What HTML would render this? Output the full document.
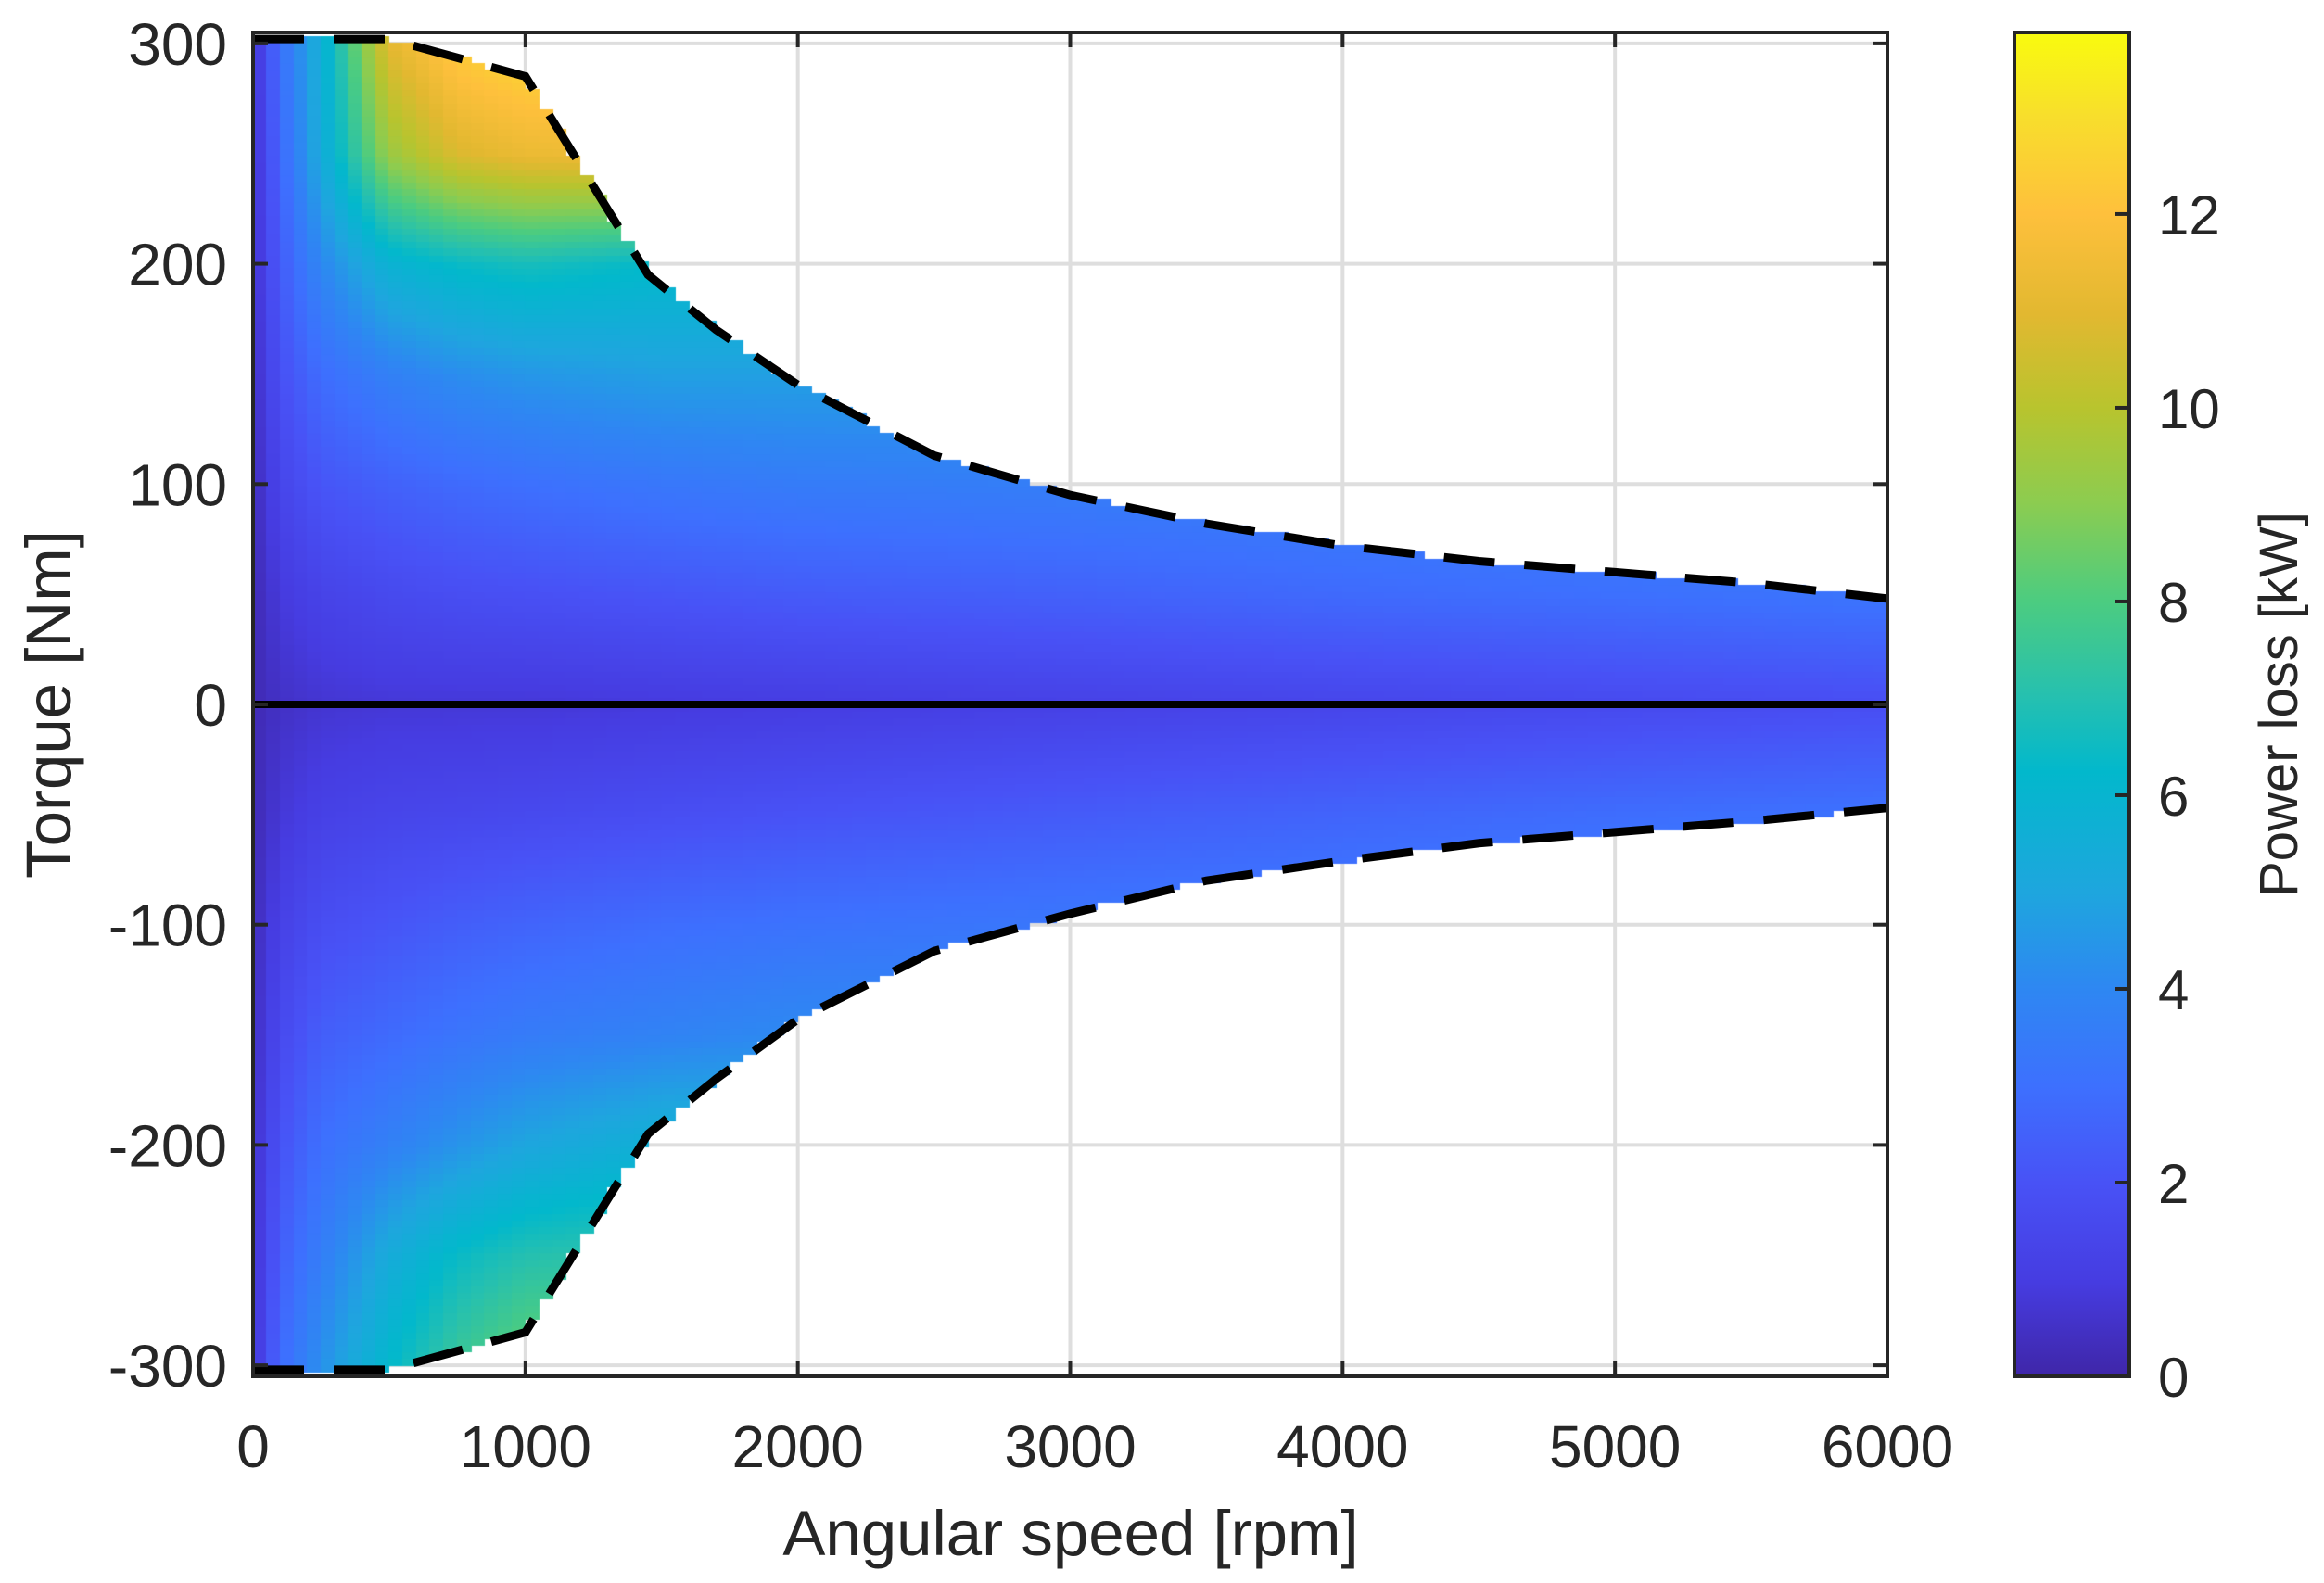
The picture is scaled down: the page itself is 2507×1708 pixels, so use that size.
<!DOCTYPE html>
<html><head><meta charset="utf-8"><style>
html,body{margin:0;padding:0;background:#fff;}
#wrap{position:relative;width:2507px;height:1708px;overflow:hidden;font-family:"Liberation Sans",Arial,sans-serif;}
svg{position:absolute;left:0;top:0;}
canvas{position:absolute;left:0;top:0;}
</style></head><body>
<div id="wrap">
<svg id="under" width="2507" height="1708"></svg>
<canvas id="heat" width="2507" height="1708"></canvas>
<svg id="over" width="2507" height="1708"></svg>
</div>
<script>
const xTicks=[0,1000,2000,3000,4000,5000,6000];
const yTicks=[-300,-200,-100,0,100,200,300];
const cbTicks=[0,2,4,6,8,10,12];
const envSpeed=[0,500,1000,1450,1700,2000,2500,3000,3500,4000,4500,5000,5500,6000];
const envMax=[302,302,285,195,170,145,113,95,82,72,65,60,55,48];
const envMin=[-302,-302,-285,-195,-170,-143,-112,-95,-80,-71,-63,-58,-53,-47];
const lossSpeeds=[0,100,250,500,750,1000,1500,2000,3000,4000,5000,6000];
const lossTorques=[300,250,200,150,100,50,0,-50,-100,-150,-200,-250,-300];
const lossRow300=[0.5,3.0,5.5,11.0,12.5,13.0,13.0,13,13,13,13,13];
const lossRow250=[0.5,2.7,5.3,9.3,10.8,11.3,11.5,11.5,11.5,11.5,11.5,11.5];
const lossRow200=[0.5,2.3,4.0,5.8,6.4,6.7,6.3,6.3,6.3,6.3,6.3,6.3];
const lossRow150=[0.4,1.9,2.9,3.7,4.2,4.5,4.8,4.8,4.8,4.8,4.8,4.8];
const lossRow100=[0.3,1.4,2.1,2.5,2.8,3.0,3.3,3.5,3.6,3.7,3.8,3.9];
const lossRow50=[0.2,0.9,1.3,1.6,1.8,1.9,2.1,2.3,2.5,2.8,3.0,3.2];
const lossRow0=[0.2,0.5,0.7,0.8,0.8,0.8,0.9,1.0,1.2,1.4,1.6,1.8];
const lossRowM50=[0.2,0.8,1.2,1.4,1.5,1.6,1.8,2.0,2.3,2.6,2.9,3.1];
const lossRowM100=[0.3,1.2,1.8,2.1,2.4,2.6,2.9,3.1,3.3,3.5,3.7,3.9];
const lossRowM150=[0.4,1.6,2.4,2.8,3.2,3.5,3.8,4.1,4.2,4.2,4.2,4.2];
const lossRowM200=[0.5,2.0,3.0,3.7,4.4,5.0,5.7,5.7,5.7,5.7,5.7,5.7];
const lossRowM250=[0.5,2.4,3.6,5.3,6.4,7.0,7.3,7.3,7.3,7.3,7.3,7.3];
const lossRowM300=[0.6,2.8,4.3,6.2,7.6,8.5,8.5,8.5,8.5,8.5,8.5,8.5];
const lossGrid=[lossRow300,lossRow250,lossRow200,lossRow150,lossRow100,lossRow50,lossRow0,lossRowM50,lossRowM100,lossRowM150,lossRowM200,lossRowM250,lossRowM300];
const cMax=13.875;

const X0=273,X1=2036,Y0=1485,Y1=35,TMIN=-305,TMAX=305;
const xs=v=>X0+(v/6000)*(X1-X0);
const ys=v=>Y0-(v-TMIN)/(TMAX-TMIN)*(Y0-Y1);
const CB0=1485,CBT=35,CBL=2173,CBR=2297;
const cs=v=>CB0-(v/cMax)*(CB0-CBT);
const NS='http://www.w3.org/2000/svg';
function mk(p,tag,at){const e=document.createElementNS(NS,tag);for(const k in at)e.setAttribute(k,at[k]);p.appendChild(e);return e;}
const stops=[[0,[63,38,168]],[0.07,[70,60,225]],[0.144,[72,82,246]],[0.216,[61,112,254]],[0.288,[46,135,242]],[0.36,[30,166,222]],[0.45,[2,184,204]],[0.505,[37,192,176]],[0.577,[76,204,128]],[0.65,[140,204,80]],[0.72,[184,196,46]],[0.79,[226,184,48]],[0.865,[254,192,60]],[0.937,[248,222,44]],[1,[249,251,14]]];
function parula(t){t=Math.max(0,Math.min(1,t));for(let i=1;i<stops.length;i++){if(t<=stops[i][0]){const a=stops[i-1],b=stops[i];const f=(t-a[0])/(b[0]-a[0]);return `rgb(${Math.round(a[1][0]+f*(b[1][0]-a[1][0]))},${Math.round(a[1][1]+f*(b[1][1]-a[1][1]))},${Math.round(a[1][2]+f*(b[1][2]-a[1][2]))})`;}}return 'rgb(249,251,14)';}
function interp1(xa,ya,x){if(x<=xa[0])return ya[0];for(let i=1;i<xa.length;i++){if(x<=xa[i]){const f=(x-xa[i-1])/(xa[i]-xa[i-1]);return ya[i-1]+f*(ya[i]-ya[i-1]);}}return ya[ya.length-1];}
function loss(n,T){
  let j=0;while(j<lossSpeeds.length-2&&n>lossSpeeds[j+1])j++;
  const fx=Math.max(0,Math.min(1,(n-lossSpeeds[j])/(lossSpeeds[j+1]-lossSpeeds[j])));
  let i=0;while(i<lossTorques.length-2&&T<lossTorques[i+1])i++;
  const fy=Math.max(0,Math.min(1,(lossTorques[i]-T)/(lossTorques[i]-lossTorques[i+1])));
  const a=lossGrid[i][j]*(1-fx)+lossGrid[i][j+1]*fx;
  const b=lossGrid[i+1][j]*(1-fx)+lossGrid[i+1][j+1]*fx;
  return a*(1-fy)+b*fy;
}
const under=document.getElementById('under');
xTicks.forEach(v=>{const l=mk(under,'line',{x1:xs(v),x2:xs(v),y1:Y1,y2:Y0,stroke:'#dedede','stroke-width':4});

});
yTicks.forEach(v=>{const l=mk(under,'line',{x1:X0,x2:X1,y1:ys(v),y2:ys(v),stroke:'#dedede','stroke-width':4});

});
const ctx=document.getElementById('heat').getContext('2d');
const dn=50,dT=3;
for(let n=0;n<6000;n+=dn){
  const nc=n+dn/2;
  const tmax=interp1(envSpeed,envMax,nc),tmin=interp1(envSpeed,envMin,nc);
  for(let T=-303;T<303;T+=dT){
    const Tc=T+dT/2;
    if(Tc>tmax||Tc<tmin)continue;
    ctx.fillStyle=parula(loss(nc,Tc)/cMax);
    const xa=Math.floor(xs(n)),xb=Math.ceil(xs(n+dn)),ya=Math.floor(ys(T+dT)),yb=Math.ceil(ys(T));
    ctx.fillRect(xa,ya,xb-xa,yb-ya);
  }
}
const over=document.getElementById('over');
const z=mk(over,'line',{x1:X0,x2:X1,y1:ys(0),y2:ys(0),stroke:'#000','stroke-width':8});


const pMax=envSpeed.map((s,i)=>xs(s)+','+ys(envMax[i])).join(' ');
const pMin=envSpeed.map((s,i)=>xs(s)+','+ys(envMin[i])).join(' ');
const e1=mk(over,'polyline',{points:pMax,fill:'none',stroke:'#000','stroke-width':9,'stroke-dasharray':'55 32'});


const e2=mk(over,'polyline',{points:pMin,fill:'none',stroke:'#000','stroke-width':9,'stroke-dasharray':'55 32'});


const bx=mk(over,'rect',{x:X0,y:Y1,width:X1-X0,height:Y0-Y1,fill:'none',stroke:'#262626','stroke-width':4});


const fs=64;
xTicks.forEach(v=>{
  mk(over,'line',{x1:xs(v),x2:xs(v),y1:Y0,y2:Y0-16,stroke:'#262626','stroke-width':4});
  mk(over,'line',{x1:xs(v),x2:xs(v),y1:Y1,y2:Y1+16,stroke:'#262626','stroke-width':4});
  const t=mk(over,'text',{x:xs(v),y:1583,'text-anchor':'middle','font-size':fs,fill:'#262626'});t.textContent=v;
  
  
});
yTicks.forEach(v=>{
  mk(over,'line',{x1:X0,x2:X0+16,y1:ys(v),y2:ys(v),stroke:'#262626','stroke-width':4});
  mk(over,'line',{x1:X1,x2:X1-16,y1:ys(v),y2:ys(v),stroke:'#262626','stroke-width':4});
  const t=mk(over,'text',{x:245,y:ys(v)+23,'text-anchor':'end','font-size':fs,fill:'#262626'});t.textContent=v;
  
  
});
const xt=mk(over,'text',{x:1155,y:1678,'text-anchor':'middle','font-size':69,fill:'#262626'});xt.textContent='Angular speed [rpm]';


const yt=mk(over,'text',{x:0,y:0,'text-anchor':'middle','font-size':69,fill:'#262626',transform:'translate(76,760) rotate(-90)'});yt.textContent='Torque [Nm]';


const defs=mk(over,'defs',{});
const g=mk(defs,'linearGradient',{id:'cbg',x1:0,y1:1,x2:0,y2:0});
stops.forEach(s=>mk(g,'stop',{offset:s[0],'stop-color':`rgb(${s[1].join(',')})`}));
const cb=mk(over,'rect',{x:CBL,y:CBT,width:CBR-CBL,height:CB0-CBT,fill:'url(#cbg)',stroke:'#262626','stroke-width':4});


cbTicks.forEach(v=>{
  mk(over,'line',{x1:CBR-15,x2:CBR,y1:cs(v),y2:cs(v),stroke:'#262626','stroke-width':4});
  const t=mk(over,'text',{x:2328,y:cs(v)+22,'font-size':60,fill:'#262626'});t.textContent=v;
  
  
});
const ct=mk(over,'text',{x:0,y:0,'text-anchor':'middle','font-size':58,fill:'#262626',transform:'translate(2478,760) rotate(-90)'});ct.textContent='Power loss [kW]';


</script>
</body></html>
